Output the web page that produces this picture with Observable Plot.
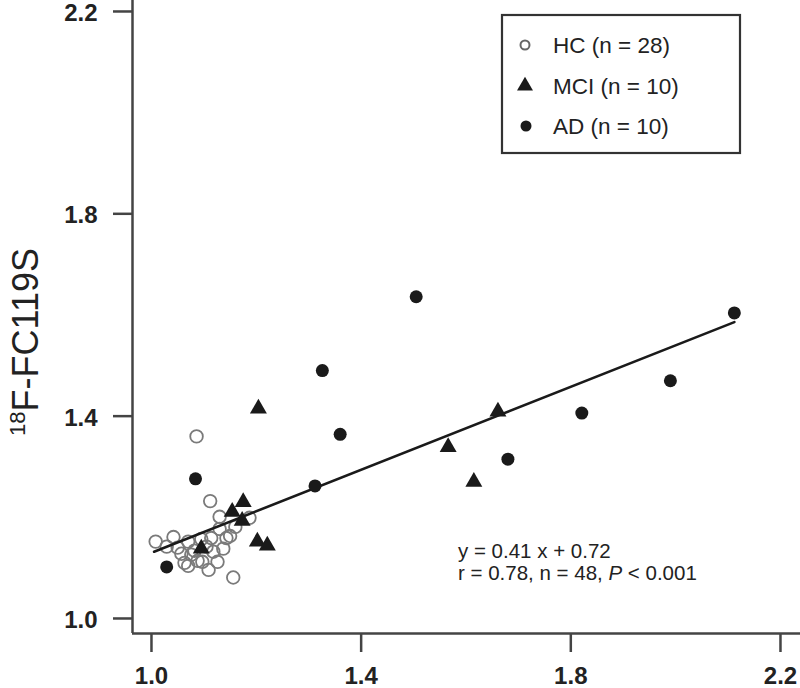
<!DOCTYPE html>
<html><head><meta charset="utf-8">
<script src="https://cdn.jsdelivr.net/npm/d3@7"></script>
<script src="https://cdn.jsdelivr.net/npm/@observablehq/plot@0.6"></script>
<style>body{margin:0;background:#fff}#chart{width:800px;height:688px}</style>
</head><body><div id="chart"></div>
<script>
// ---- data ----
const hcX = [1.086,1.112,1.130,1.187,1.008,1.042,1.070,1.114,1.143,1.057,1.063,1.097,1.126,1.109,1.156,1.029,1.050,1.082,1.105,1.130,1.150,1.088,1.118,1.076,1.137,1.095,1.160,1.070];
const hcY = [1.360,1.232,1.201,1.199,1.152,1.161,1.152,1.159,1.159,1.128,1.110,1.112,1.112,1.096,1.081,1.142,1.140,1.134,1.142,1.177,1.163,1.114,1.132,1.126,1.138,1.157,1.181,1.104];
const mciX = [1.204,1.661,1.566,1.615,1.175,1.154,1.173,1.095,1.202,1.221];
const mciY = [1.415,1.409,1.339,1.270,1.230,1.211,1.193,1.138,1.152,1.144];
const adX = [1.505,2.112,1.326,1.360,1.312,1.084,1.029,1.821,1.990,1.680];
const adY = [1.636,1.604,1.490,1.364,1.262,1.276,1.102,1.406,1.470,1.315];
const slope = 0.41, intercept = 0.72, fitFrom = 1.005, fitTo = 2.112;
const xTicks = [1.0, 1.4, 1.8, 2.2];
const yTicks = [1.0, 1.4, 1.8, 2.2];
const legendLabels = ["HC (n = 28)", "MCI (n = 10)", "AD (n = 10)"];
const eqLine1 = "y = 0.41 x + 0.72";
const eqLine2a = "r = 0.78, n = 48, ", eqLine2P = "P", eqLine2b = " < 0.001";
const yTitleSup = "18", yTitleMain = "F-FC119S";

const zip = (xs, ys) => xs.map((x, i) => ({x, y: ys[i]}));
const hc = zip(hcX, hcY), mci = zip(mciX, mciY), ad = zip(adX, adY);
const fit = [fitFrom, fitTo].map(x => ({x, y: slope * x + intercept}));

const FONT = "'Liberation Sans', Arial, Helvetica, sans-serif";
const xDom = [0.9638, 2.2382], yDom = [0.9703, 2.2217];

const plot = Plot.plot({
  width: 800, height: 688,
  marginLeft: 132, marginRight: 0, marginTop: 0, marginBottom: 55,
  style: {fontFamily: FONT, fontSize: "24px", fontWeight: "bold", color: "#222", background: "#fff", overflow: "visible"},
  x: {domain: xDom},
  y: {domain: yDom},
  marks: [
    Plot.axisX({ticks: xTicks, tickFormat: d3.format(".1f"), tickSize: 19, tickPadding: 14,
      stroke: "#444", strokeWidth: 2.5, label: null}),
    Plot.axisY({ticks: yTicks, tickFormat: d3.format(".1f"), tickSize: 19, tickPadding: 16,
      stroke: "#444", strokeWidth: 2.5, label: null}),
    Plot.ruleX([xDom[0]], {stroke: "#444", strokeWidth: 2.5}),
    Plot.ruleY([yDom[0]], {stroke: "#444", strokeWidth: 2.5}),
    Plot.dot(hc, {x: "x", y: "y", r: 6.3, symbol: "circle", stroke: "#7a7a7a", strokeWidth: 1.8, fill: "none"}),
    Plot.line(fit, {x: "x", y: "y", stroke: "#1a1a1a", strokeWidth: 2.6}),
    Plot.dot(mci, {x: "x", y: "y", r: 6.3, symbol: "triangle", fill: "#1a1a1a", stroke: "none"}),
    Plot.dot(ad, {x: "x", y: "y", r: 6.5, symbol: "circle", fill: "#1a1a1a", stroke: "none"})
  ]
});
document.getElementById("chart").appendChild(plot);

const svg = d3.select(plot);
// tick label typography
svg.selectAll("g[aria-label$='tick label']").attr("font-size", 24).attr("font-weight", "bold")
  .selectAll("text").style("font-size", "24px").style("font-weight", "bold");
const yLab = svg.select("g[aria-label='y-axis tick label']");
const prevT = yLab.attr("transform") || "";
yLab.attr("transform", prevT + " translate(0,2)");

// y-axis title with superscript
const t = svg.append("text")
  .attr("transform", "translate(38,342) rotate(-90)")
  .attr("text-anchor", "middle").attr("fill", "#222").attr("font-weight", "normal")
  .attr("font-family", FONT).attr("font-size", 36);
t.append("tspan").attr("font-size", 22).attr("dy", -13).text(yTitleSup);
t.append("tspan").attr("dy", 13).text(yTitleMain);

// legend
const lg = svg.append("g").attr("font-family", FONT).attr("font-weight", "normal").attr("text-anchor", "start");
lg.append("rect").attr("x", 502).attr("y", 15).attr("width", 238).attr("height", 138)
  .attr("fill", "none").attr("stroke", "#333").attr("stroke-width", 2.2);
const rowsY = [45, 86, 126];
lg.append("circle").attr("cx", 525).attr("cy", rowsY[0]).attr("r", 4.5)
  .attr("fill", "none").attr("stroke", "#666").attr("stroke-width", 2);
lg.append("path").attr("d", d3.symbol(d3.symbolTriangle, 110)())
  .attr("transform", `translate(525,${rowsY[1]})`).attr("fill", "#1a1a1a");
lg.append("circle").attr("cx", 526).attr("cy", rowsY[2]).attr("r", 5.5).attr("fill", "#1a1a1a");
legendLabels.forEach((s, i) => {
  lg.append("text").attr("x", 553).attr("y", rowsY[i]).attr("dy", "0.35em")
    .attr("font-size", 22.5).attr("fill", "#222").text(s);
});

// regression annotation
const ann = svg.append("g").attr("font-family", FONT).attr("font-size", 20.5)
  .attr("font-weight", "normal").attr("text-anchor", "start").attr("fill", "#222");
ann.append("text").attr("x", 458).attr("y", 551).attr("dy", "0.35em").text(eqLine1);
const l2 = ann.append("text").attr("x", 458).attr("y", 573).attr("dy", "0.35em");
l2.append("tspan").text(eqLine2a);
l2.append("tspan").attr("font-style", "italic").text(eqLine2P);
l2.append("tspan").text(eqLine2b);
</script>
</body></html>
